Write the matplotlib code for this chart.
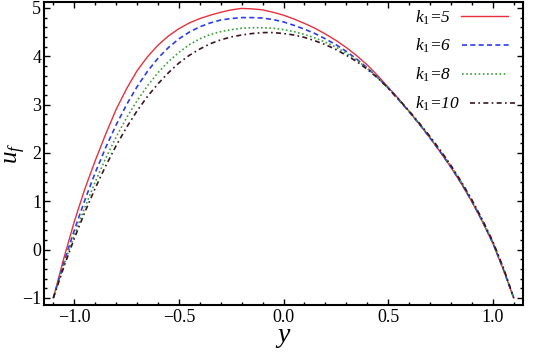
import numpy as np
import matplotlib
matplotlib.use("Agg")
import matplotlib.pyplot as plt
from matplotlib.ticker import MultipleLocator, FuncFormatter

plt.rcParams['font.family'] = ['Liberation Serif', 'DejaVu Serif']
plt.rcParams['mathtext.fontset'] = 'custom'
plt.rcParams['mathtext.rm'] = 'Liberation Serif'
plt.rcParams['mathtext.it'] = 'Liberation Serif:italic'

y_vals = [-1.10, -1.05, -1.00, -0.95, -0.90, -0.85, -0.80, -0.75, -0.70, -0.65,
          -0.60, -0.55, -0.50, -0.45, -0.40, -0.35, -0.30, -0.25, -0.20, -0.15,
          -0.10, -0.05, 0.00, 0.05, 0.10, 0.15, 0.20, 0.25, 0.30, 0.35,
          0.40, 0.45, 0.50, 0.55, 0.60, 0.65, 0.70, 0.75, 0.80, 0.85,
          0.90, 0.95, 1.00, 1.05, 1.10]

uf_k5 = [-1.00, -0.18, 0.58, 1.25, 1.84, 2.39, 2.90, 3.33, 3.70, 3.99,
         4.23, 4.42, 4.57, 4.69, 4.78, 4.85, 4.91, 4.96, 4.99, 4.98,
         4.96, 4.91, 4.85, 4.77, 4.68, 4.58, 4.46, 4.33, 4.18, 4.01,
         3.82, 3.60, 3.36, 3.12, 2.86, 2.59, 2.31, 2.01, 1.70, 1.36,
         0.99, 0.58, 0.13, -0.41, -1.00]
uf_k6 = [-1.00, -0.27, 0.40, 1.02, 1.59, 2.11, 2.58, 3.00, 3.37, 3.69,
         3.96, 4.18, 4.36, 4.50, 4.61, 4.69, 4.75, 4.78, 4.80, 4.80,
         4.79, 4.76, 4.71, 4.64, 4.56, 4.47, 4.36, 4.24, 4.10, 3.94,
         3.76, 3.56, 3.34, 3.10, 2.85, 2.59, 2.31, 2.02, 1.71, 1.37,
         1.00, 0.59, 0.14, -0.40, -1.00]
uf_k8 = [-1.00, -0.32, 0.30, 0.87, 1.40, 1.89, 2.33, 2.73, 3.08, 3.39,
         3.66, 3.89, 4.08, 4.24, 4.36, 4.45, 4.51, 4.55, 4.58, 4.59,
         4.59, 4.58, 4.55, 4.51, 4.45, 4.38, 4.29, 4.19, 4.06, 3.92,
         3.75, 3.56, 3.34, 3.10, 2.86, 2.60, 2.33, 2.04, 1.73, 1.39,
         1.02, 0.61, 0.16, -0.38, -1.00]
uf_k10 = [-1.00, -0.36, 0.23, 0.77, 1.27, 1.73, 2.15, 2.53, 2.87, 3.17,
          3.43, 3.66, 3.86, 4.02, 4.15, 4.26, 4.34, 4.40, 4.44, 4.47,
          4.49, 4.49, 4.47, 4.44, 4.39, 4.32, 4.24, 4.14, 4.02, 3.89,
          3.73, 3.55, 3.34, 3.11, 2.87, 2.61, 2.34, 2.05, 1.74, 1.40,
          1.03, 0.62, 0.17, -0.37, -1.00]

labels = [r'$k_1$=5', r'$k_1$=6', r'$k_1$=8', r'$k_1$=10']

fig = plt.figure(figsize=(5.36, 3.54), dpi=100)
ax = fig.add_axes([0.082, 0.138, 0.894, 0.856])

ax.plot(y_vals, uf_k5, color='#e8303c', lw=1.0, ls='-', label=labels[0])
ax.plot(y_vals, uf_k6, color='#2a3cf0', lw=1.2, ls=(0, (3, 2)), label=labels[1])
ax.plot(y_vals, uf_k8, color='#3aa03a', lw=1.2, ls=(0, (1, 1.5)), label=labels[2])
ax.plot(y_vals, uf_k10, color='#3a1520', lw=1.2, ls=(0, (3, 2, 1, 2)), label=labels[3])

ax.set_xlim(-1.145, 1.145)
ax.set_ylim(-1.15, 5.12)
ax.xaxis.set_major_locator(MultipleLocator(0.5))
ax.xaxis.set_minor_locator(MultipleLocator(0.1))
ax.yaxis.set_major_locator(MultipleLocator(1))
ax.yaxis.set_minor_locator(MultipleLocator(0.2))
ax.tick_params(which='both', direction='in', top=True, right=True, labelsize=13, width=1)
ax.tick_params(which='major', length=4)
ax.tick_params(which='minor', length=2)
ax.tick_params(axis='y', pad=2)
ax.tick_params(axis='x', pad=3)
ax.xaxis.set_major_formatter(FuncFormatter(lambda v, p: f'{v:.1f}'.replace('-', '\u2212')))
ax.yaxis.set_major_formatter(FuncFormatter(lambda v, p: f'{int(round(v))}'.replace('-', '\u2212')))
for s in ax.spines.values():
    s.set_linewidth(1.5)

ax.set_xlabel(r'$y$', fontsize=20, labelpad=-1)
ax.set_ylabel(r'$u_f$', fontsize=18)
ax.yaxis.set_label_coords(-0.034, 0.5)

leg = ax.legend(loc='upper right', frameon=False, markerfirst=False,
                prop={'family': 'Liberation Serif', 'style': 'italic', 'size': 12.5},
                handlelength=2.7, labelspacing=0.6, borderaxespad=0.15,
                borderpad=0.2, handletextpad=0.6)
# left-align the label texts as in the reference
for col in leg._legend_handle_box.get_children():
    col.align = 'left'

fig.savefig('out.png', dpi=100)
